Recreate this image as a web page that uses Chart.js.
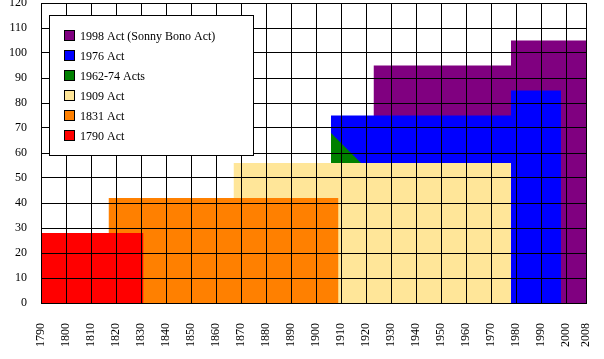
<!DOCTYPE html>
<html>
<head>
    <title>Copyright term chart</title>
    <script src="https://cdn.jsdelivr.net/npm/chart.js@4/dist/chart.umd.min.js"></script>
    <style>
        body {
            margin: 0;
            background: white;
        }
        canvas {
            display: block;
        }
    </style>
</head>
<body>
    <canvas id="termChart" width="604" height="359"></canvas>

    <script>
        // Series, bottom layer last (first dataset is drawn on top)
        const actNames = ['1790 Act', '1831 Act', '1909 Act', '1962-74 Acts', '1976 Act', '1998 Act (Sonny Bono Act)'];
        const actColors = ['#FF0000', '#FF8000', '#FFE699', '#008000', '#0000FF', '#800080'];

        const act1790X = [1790, 1790, 1831, 1831];
        const act1790Y = [0, 28, 28, 0];
        const act1831X = [1817, 1817, 1909, 1909];
        const act1831Y = [0, 42, 42, 0];
        const act1909X = [1867, 1867, 1978, 1978];
        const act1909Y = [0, 56, 56, 0];
        const act1962X = [1906, 1906, 1918, 1918];
        const act1962Y = [0, 68, 56, 0];
        const act1976X = [1906, 1906, 1978, 1978, 1998, 1998];
        const act1976Y = [0, 75, 75, 85, 85, 0];
        const act1998X = [1923, 1923, 1978, 1978, 2008, 2008];
        const act1998Y = [0, 95, 95, 105, 105, 0];

        const xTickValues = [1790, 1800, 1810, 1820, 1830, 1840, 1850, 1860, 1870, 1880, 1890,
            1900, 1910, 1920, 1930, 1940, 1950, 1960, 1970, 1980, 1990, 2000, 2008];

        const seriesX = [act1790X, act1831X, act1909X, act1962X, act1976X, act1998X];
        const seriesY = [act1790Y, act1831Y, act1909Y, act1962Y, act1976Y, act1998Y];

        function toPoints(xs, ys) {
            return xs.map((x, i) => ({ x: x, y: ys[i] }));
        }

        const datasets = actNames.map((name, i) => ({
            label: name,
            data: toPoints(seriesX[i], seriesY[i]),
            backgroundColor: actColors[i],
            borderColor: 'rgba(0,0,0,0)',
            borderWidth: 0,
            pointRadius: 0,
            tension: 0,
            fill: 'origin'
        }));

        const serif = '"Liberation Serif", "DejaVu Serif", serif';

        // Legend box drawn inside the plot
        const boxLegend = {
            id: 'boxLegend',
            afterDraw(chart) {
                const ctx = chart.ctx;
                ctx.save();
                ctx.fillStyle = '#ffffff';
                ctx.strokeStyle = '#000000';
                ctx.lineWidth = 1;
                ctx.fillRect(49.5, 15.5, 204, 140);
                ctx.strokeRect(49.5, 15.5, 204, 140);

                ctx.font = '12px ' + serif;
                ctx.textBaseline = 'middle';
                const ds = chart.data.datasets.slice().reverse();
                ds.forEach((d, i) => {
                    const y = 36 + i * 20;
                    ctx.fillStyle = d.backgroundColor;
                    ctx.fillRect(64.5, y - 5.5, 10, 10);
                    ctx.strokeRect(64.5, y - 5.5, 10, 10);
                    ctx.fillStyle = '#000000';
                    ctx.fillText(d.label, 80, y + 1);
                });
                ctx.restore();
            }
        };

        new Chart(document.getElementById('termChart'), {
            type: 'line',
            data: { datasets: datasets },
            options: {
                responsive: false,
                animation: false,
                layout: {
                    padding: { left: 0, top: 3, right: 18, bottom: 0 }
                },
                plugins: {
                    legend: { display: false },
                    tooltip: { enabled: false }
                },
                scales: {
                    x: {
                        type: 'linear',
                        min: 1790,
                        max: 2008,
                        afterBuildTicks(scale) {
                            scale.ticks = xTickValues.map(v => ({ value: v }));
                        },
                        afterFit(scale) {
                            scale.height = 56;
                            scale.paddingLeft = 0;
                            scale.paddingRight = 0;
                        },
                        ticks: {
                            autoSkip: false,
                            minRotation: 90,
                            maxRotation: 90,
                            padding: 20,
                            color: '#000',
                            font: { family: serif, size: 12 },
                            callback: v => String(v)
                        },
                        grid: { color: '#000', lineWidth: 1, drawTicks: false, z: 1 },
                        border: { display: true, color: '#000', width: 1, z: 1 }
                    },
                    y: {
                        min: 0,
                        max: 120,
                        afterFit(scale) {
                            scale.width = 41;
                            scale.paddingTop = 0;
                            scale.paddingBottom = 0;
                        },
                        ticks: {
                            stepSize: 10,
                            padding: 14,
                            color: '#000',
                            font: { family: serif, size: 12 }
                        },
                        grid: { color: '#000', lineWidth: 1, drawTicks: false, z: 1 },
                        border: { display: true, color: '#000', width: 1, z: 1 }
                    }
                }
            },
            plugins: [boxLegend]
        });
    </script>
</body>
</html>
